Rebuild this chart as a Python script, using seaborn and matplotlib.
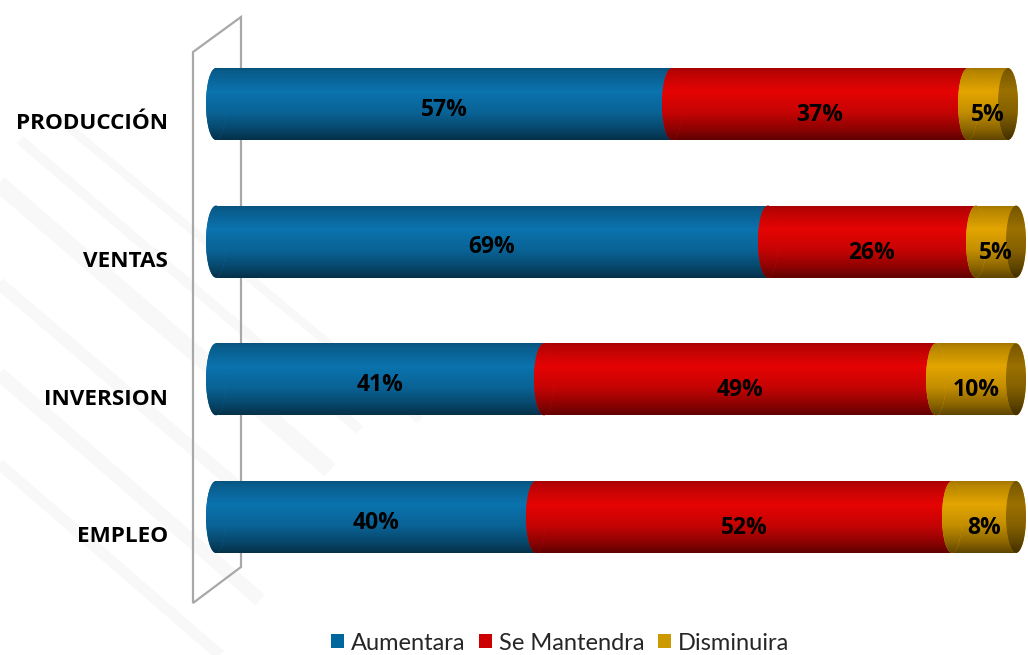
import numpy as np
import pandas as pd
import matplotlib
matplotlib.use("Agg")
import matplotlib.pyplot as plt
import matplotlib.transforms as mtransforms
import seaborn as sns
from matplotlib.patches import Ellipse, Polygon, Patch
from matplotlib.lines import Line2D
from matplotlib.colors import to_rgb

# Survey results (% of respondents)
categories = ["PRODUCCIÓN", "VENTAS", "INVERSION", "EMPLEO"]
aumentara = [57, 69, 41, 40]
se_mantendra = [37, 26, 49, 52]
disminuira = [5, 5, 10, 8]
series_names = ["Aumentara", "Se Mantendra", "Disminuira"]

bar_colors = ["#0b73ae", "#e60404", "#e3a500"]
legend_colors = ["#00669e", "#cc0000", "#cc9900"]

sns.set_theme(style="white")
plt.rcParams["font.family"] = ["Lato", "DejaVu Sans"]
BOLD_FONT = ["Open Sans", "DejaVu Sans"]

W, H, DPI = 1028, 655, 100
fig = plt.figure(figsize=(W / DPI, H / DPI), dpi=DPI)
fig.patch.set_facecolor("white")

# faint diagonal background pattern on the left
for x0, y0, x1, y1, lw in [(-40, 150, 330, 470, 12), (-40, 250, 300, 540, 9),
                           (-40, 340, 260, 600, 10), (-40, 430, 220, 655, 8),
                           (20, 140, 360, 430, 7), (60, 120, 420, 420, 6)]:
    fig.add_artist(Line2D([x0 / W, x1 / W], [1 - y0 / H, 1 - y1 / H],
                          transform=fig.transFigure, color="#f8f8f8",
                          linewidth=lw, solid_capstyle="butt", zorder=0))

ax = fig.add_axes([192 / W, 1 - 610 / H, 836 / W, 600 / H])
ax.set_facecolor("none")

values = np.array([aumentara, se_mantendra, disminuira], dtype=float)
cum = np.cumsum(values, axis=0)
starts = cum - values

BAR_H = 0.523
CAP = 1.25  # half-width of the cylinder end ellipses (data units)


def shade(color, dark=1.0, n=96):
    t = np.linspace(0, 1, n)
    prof = np.interp(t, [0.0, 0.06, 0.33, 0.62, 0.85, 1.0],
                     [0.70, 0.80, 1.0, 0.86, 0.62, 0.42])
    rgb = np.array(to_rgb(color)) * dark
    img = np.clip(rgb[None, :] * prof[:, None], 0, 1)
    return img[:, None, :]


def paint(x0, x1, ytop, ybot, color, clip, z, dark=1.0):
    im = ax.imshow(shade(color, dark), extent=(x0, x1, ybot, ytop), origin="upper",
                   aspect="auto", interpolation="bilinear", zorder=z)
    im.set_clip_path(clip)
    return im


# Stacked bars: cumulative totals drawn back to front
for k in reversed(range(3)):
    n0 = len(ax.patches)
    z = 2 + (2 - k) * 0.1
    sns.barplot(x=cum[k], y=categories, orient="h", color=bar_colors[k],
                saturation=1, width=BAR_H, ax=ax, zorder=z, linewidth=0)
    for p in ax.patches[n0:]:
        x0, y0, w, h = p.get_x(), p.get_y(), p.get_width(), p.get_height()
        paint(x0, x0 + w, y0, y0 + h, bar_colors[k], p, z + 0.01)

# Cylinder end caps at the start of each segment and at the far end
for i in range(len(categories)):
    for k in range(3):
        cx = starts[k][i]
        e = Ellipse((cx, i), 2 * CAP, BAR_H, facecolor=bar_colors[k],
                    edgecolor="none", zorder=2.5)
        ax.add_patch(e)
        paint(cx - CAP, cx + CAP, i - BAR_H / 2, i + BAR_H / 2, bar_colors[k], e, 2.51)
    cx = cum[2][i]
    e = Ellipse((cx, i), 2 * CAP, BAR_H, facecolor=bar_colors[2],
                edgecolor="none", zorder=2.6)
    ax.add_patch(e)
    paint(cx - CAP, cx + CAP, i - BAR_H / 2, i + BAR_H / 2, bar_colors[2], e, 2.61, dark=0.68)

# Value labels
for i in range(len(categories)):
    for k in range(3):
        v = values[k][i]
        dy = 0.04 if k == 0 else 0.08
        ax.text(starts[k][i] + v / 2, i + dy, f"{v:.0f}%", ha="center", va="center",
                fontsize=16.5, fontweight="bold", color="black", zorder=4,
                family=BOLD_FONT)

# Category labels
lab_tr = mtransforms.blended_transform_factory(fig.transFigure, ax.transData)
for i, c in enumerate(categories):
    ax.text(168 / W, i + 0.145, c, transform=lab_tr, ha="right", va="center",
            fontsize=16.2, fontweight="bold", color="black", family=BOLD_FONT)

# Side wall of the 3-D plot area
wall_px = [(193, 52), (241, 17), (241, 567), (193, 603)]
wall = Polygon([(x / W, 1 - y / H) for x, y in wall_px], closed=True, facecolor="none",
               edgecolor="#a8a8a8", linewidth=1.6, transform=fig.transFigure,
               zorder=1, clip_on=False)
ax.add_patch(wall)

ax.set_xlim(-3, 101.5)
ax.set_ylim(3 + 93 / 137.67, -94 / 137.67)
ax.set_xlabel("")
ax.set_ylabel("")
ax.set_xticks([])
ax.set_yticks([])
for s in ax.spines.values():
    s.set_visible(False)

handles = [Patch(facecolor=c, edgecolor="none") for c in legend_colors]
fig.legend(handles, series_names, loc="center", bbox_to_anchor=(560 / W, 1 - 643 / H),
           ncol=3, frameon=False, fontsize=17, handlelength=0.57, handleheight=0.57,
           handletextpad=0.3, columnspacing=0.55, borderaxespad=0, borderpad=0)

fig.savefig("out.png", dpi=DPI)
